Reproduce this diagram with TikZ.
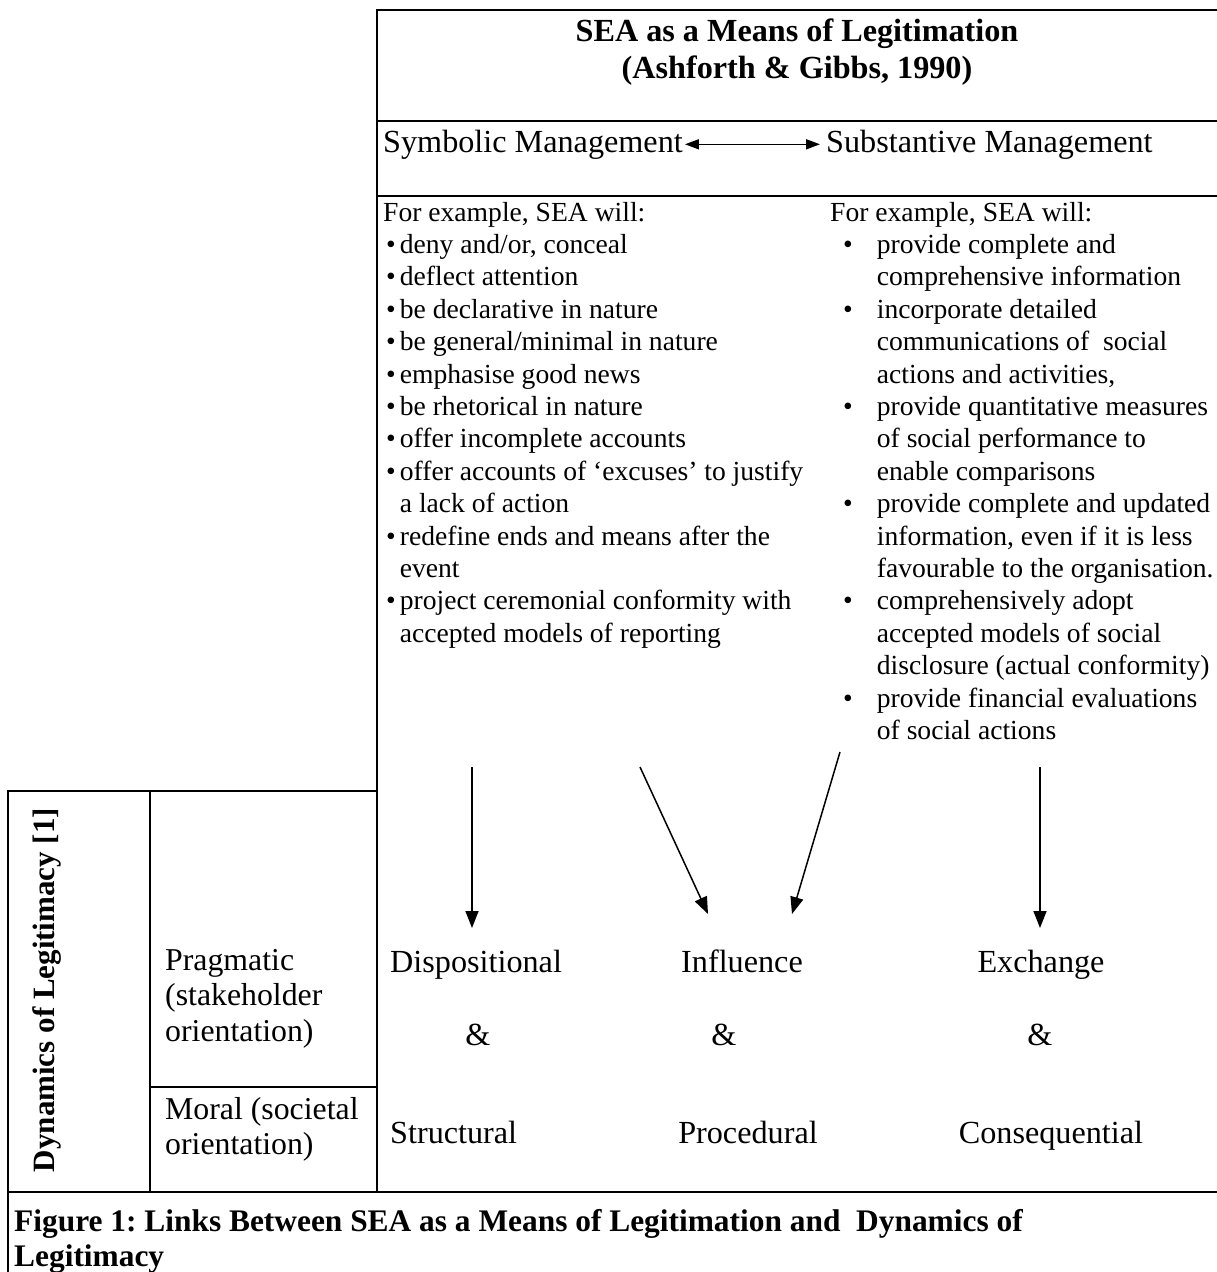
\documentclass[tikz,border=0pt]{standalone}
\usepackage{fontspec}
\setmainfont{Liberation Serif}
\usetikzlibrary{arrows.meta}
\frenchspacing
\begin{document}
\begin{tikzpicture}[x=1pt,y=-1pt,
  frame/.style={line width=1.7pt, line cap=rect},
  bigtxt/.style={font=\fontsize{32.2}{37}\selectfont, inner sep=0pt},
  bigbold/.style={font=\fontsize{32.2}{37}\selectfont\bfseries, inner sep=0pt},
  capbold/.style={font=\fontsize{31.4}{35}\selectfont\bfseries, inner sep=0pt},
  smalltxt/.style={font=\fontsize{27.6}{32.4}\selectfont, inner sep=0pt},
  celltxt/.style={font=\fontsize{31.8}{35.5}\selectfont, inner sep=0pt},
  conn/.style={line width=1.5pt, -{Triangle[length=17pt,width=13pt]}},
  dbl/.style={line width=1.6pt, {Triangle[length=14pt,width=10pt]}-{Triangle[length=14pt,width=10pt]}},
]
\useasboundingbox (0,0) rectangle (1217,1272);

% frame lines
\draw[frame] (1217,10) -- (377,10) -- (377,1192);
\draw[frame] (377,121) -- (1217,121);
\draw[frame] (377,196) -- (1217,196);
\draw[frame] (377,791) -- (8,791) -- (8,1272);
\draw[frame] (150,791) -- (150,1192);
\draw[frame] (150,1087) -- (377,1087);
\draw[frame] (8,1192) -- (1217,1192);

% title
\node[bigbold, anchor=base] (title1) at (797,41) {SEA as a Means of Legitimation};
\node[bigbold, anchor=base] (title2) at (797,78) {(Ashforth \& Gibbs, 1990)};

% management headings
\node[bigtxt, anchor=base west] (sym) at (383,152) {Symbolic Management};
\node[bigtxt, anchor=base west] (sub) at (826,152) {Substantive Management};
\draw[dbl, shorten <=2pt, shorten >=6pt] (sym.east) -- (sub.west);

% lists
\node[smalltxt, anchor=base west] (symlist) at (383,221) {%
\begin{tabular}[t]{@{\hspace{3pt}}l@{\hspace{4pt}}l@{}}
\multicolumn{2}{@{}l@{}}{For example, SEA will:}\\
\textbullet & deny and/or, conceal\\
\textbullet & deflect attention\\
\textbullet & be declarative in nature\\
\textbullet & be general/minimal in nature\\
\textbullet & emphasise good news\\
\textbullet & be rhetorical in nature\\
\textbullet & offer incomplete accounts\\
\textbullet & offer accounts of ‘excuses’ to justify\\
 & a lack of action\\
\textbullet & redefine ends and means after the\\
 & event\\
\textbullet & project ceremonial conformity with\\
 & accepted models of reporting
\end{tabular}};

\node[smalltxt, anchor=base west] (sublist) at (830,221) {%
\begin{tabular}[t]{@{\hspace{13pt}}l@{\hspace{24pt}}l@{}}
\multicolumn{2}{@{}l@{}}{For example, SEA will:}\\
\textbullet & provide complete and\\
 & comprehensive information\\
\textbullet & incorporate detailed\\
 & communications of\ \ social\\
 & actions and activities,\\
\textbullet & provide quantitative measures\\
 & of social performance to\\
 & enable comparisons\\
\textbullet & provide complete and updated\\
 & information, even if it is less\\
 & favourable to the organisation.\\
\textbullet & comprehensively adopt\\
 & accepted models of social\\
 & disclosure (actual conformity)\\
\textbullet & provide financial evaluations\\
 & of social actions
\end{tabular}};

% left column
\node[capbold, font=\fontsize{31}{35}\selectfont\bfseries, rotate=90, anchor=base] (dyn) at (54,990) {Dynamics of Legitimacy [1]};
\node[celltxt, anchor=base west] (prag) at (165,970) {%
\begin{tabular}[t]{@{}l@{}}Pragmatic\\(stakeholder\\orientation)\end{tabular}};
\node[celltxt, anchor=base west] (moral) at (165,1119) {%
\begin{tabular}[t]{@{}l@{}}Moral (societal\\orientation)\end{tabular}};

% bottom labels
\node[bigtxt, anchor=base west] (disp) at (390,972) {Dispositional};
\node[bigtxt, anchor=base] (amp1) at (478,1045) {\&};
\node[bigtxt, anchor=base west] (struct) at (390,1143) {Structural};
\node[bigtxt, anchor=base] (infl) at (742,972) {Influence};
\node[bigtxt, anchor=base] (amp2) at (724,1045) {\&};
\node[bigtxt, anchor=base] (proc) at (748,1143) {Procedural};
\node[bigtxt, anchor=base] (exch) at (1041,972) {Exchange};
\node[bigtxt, anchor=base] (amp3) at (1040,1045) {\&};
\node[bigtxt, anchor=base] (cons) at (1051,1143) {Consequential};

% arrows
\coordinate (a1s) at (472,767);
\coordinate (a1e) at (472,928);
\coordinate (a2s) at (640,767);
\coordinate (a2e) at (708,914);
\coordinate (a3s) at (840,752);
\coordinate (a3e) at (792,914);
\coordinate (a4s) at (1040,767);
\coordinate (a4e) at (1040,928);
\draw[conn] (a1s) -- (a1e);
\draw[conn] (a2s) -- (a2e);
\draw[conn] (a3s) -- (a3e);
\draw[conn] (a4s) -- (a4e);

% caption
\node[capbold, anchor=base west] (cap1) at (14,1231) {Figure 1: Links Between SEA as a Means of Legitimation and\ \ Dynamics of};
\node[capbold, anchor=base west] (cap2) at (14,1266) {Legitimacy};
\end{tikzpicture}
\end{document}
